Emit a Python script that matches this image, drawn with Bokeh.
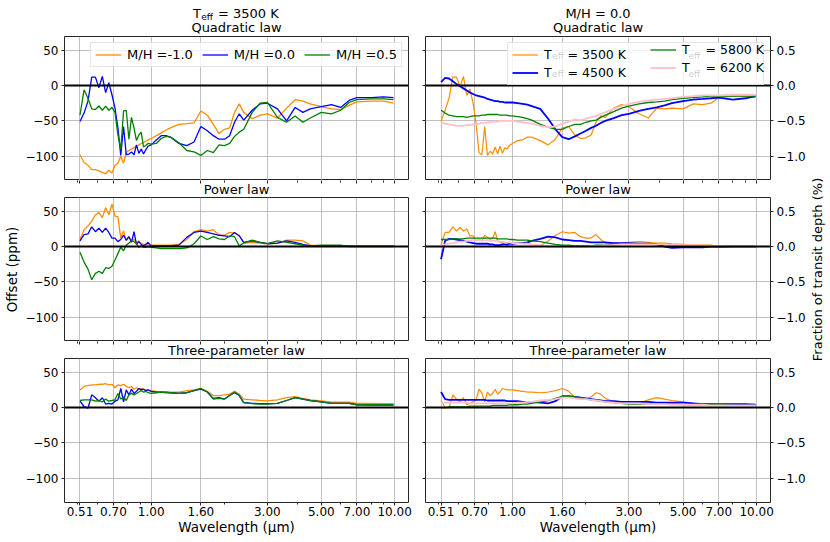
import math
from bokeh.plotting import figure
from bokeh.models import (Range1d, FixedTicker, LinearAxis, Span, Label,
                          Legend, LegendItem, CustomJSTickFormatter)
from bokeh.layouts import column, row
from bokeh.embed import file_html
from bokeh.resources import INLINE

# ---------------- data ----------------
wavelength = [0.51, 0.53, 0.55, 0.57, 0.59, 0.61, 0.63, 0.65, 0.67, 0.69,
              0.71, 0.73, 0.75, 0.77, 0.79, 0.81, 0.83, 0.85, 0.87, 0.89,
              0.91, 0.93, 0.95, 0.97, 1.00,
              1.05, 1.10, 1.15, 1.20, 1.30, 1.40, 1.50, 1.60,
              1.70, 1.80, 1.90, 2.00, 2.10, 2.20, 2.30, 2.40,
              2.60, 2.80, 3.00, 3.30, 3.60, 3.90, 4.20, 4.50,
              5.00, 5.50, 6.00, 6.50, 7.00, 8.00, 9.00, 9.90]

# left column: Teff = 3500 K, offsets in ppm
mh_labels = ["M/H =-1.0", "M/H =0.0", "M/H =0.5"]
quad_mh_m10 = [-98, -109, -113, -119, -119, -121, -123, -125, -120, -124,
               -113, -110, -100, -110, -95, -92, -90, -88, -86, -84,
               -82, -81, -79, -77, -75,
               -71, -67, -63, -60, -55, -54, -53, -36,
               -42, -55, -68, -62, -60, -38, -26, -38,
               -47, -42, -40, -46, -32, -20, -22, -26,
               -30, -33, -34, -28, -23, -22, -22, -25]
quad_mh_00 = [-51, -39, -22, 12, 12, -3, 13, -10, 4, -13,
              -32, -60, -99, -58, -98, -97, -94, -98, -84, -96,
              -90, -97, -91, -86, -84,
              -77, -71, -71, -73, -82, -85, -80, -58,
              -64, -71, -76, -76, -71, -52, -40, -49,
              -35, -26, -25, -33, -50, -31, -38, -33,
              -30, -27, -31, -21, -17, -17, -16, -17]
quad_mh_05 = [-42, -6, -18, -33, -34, -29, -35, -29, -35, -31,
              -38, -70, -90, -36, -35, -76, -45, -60, -78, -70,
              -66, -87, -85, -82, -83,
              -82, -75, -72, -73, -81, -92, -94, -99,
              -92, -95, -84, -85, -82, -72, -66, -62,
              -38, -25, -24, -45, -52, -43, -52, -46,
              -38, -40, -35, -24, -20, -19, -19, -20]
pow_mh_m10 = [10, 24, 29, 36, 45, 48, 41, 55, 45, 60,
              43, 42, 12, 22, 8, 14, 8, 10, 6, 8,
              4, 3, 3, 2, 2,
              2, 2, 2, 2, 3, 10, 21, 24,
              22, 24, 16, 16, 20, 19, 16, 5,
              6, 5, 4, 5, 9, 9, 8, 2,
              1, 1, 0.5, 0.5, 0.5, 0.5, 0.5, 0.5]
pow_mh_00 = [8, 17, 18, 28, 21, 26, 20, 26, 20, 12,
             12, 7, 10, 16, 9, 14, 6, 21, 3, 7,
             3, 1, 3, 6, 1,
             1, 1, 1, 1, 2, 13, 20, 22,
             20, 18, 16, 15, 14, 20, 15, 6,
             8, 6, 4, 5, 8, 6, 3, 1,
             1, 1, 1, 0.5, 0.5, 0.5, 0.5, 0.5]
pow_mh_05 = [-8, -22, -32, -47, -38, -35, -38, -30, -31, -28,
             -19, -10, -1, -6, 2, 5, 8, 7, 4, -1,
             1, -1, -1, 0, -1,
             -2, -3, -3, -3, -3, -2, 4, 15,
             10, 14, 11, 10, 15, 14, 1, 5,
             9, 6, 4, 8, 6, 4, 2, 1,
             2, 2, 2, 0, 0, 0, 0, 0]
three_mh_m10 = [25, 30, 31, 32, 32, 33, 33, 34, 32, 33,
                28, 32, 31, 33, 30, 28, 30, 26, 28, 26,
                27, 26, 25, 24.5, 24,
                23, 22, 22, 22, 22, 24, 25, 27,
                23, 17, 17, 18, 19, 23, 19, 12,
                11, 10, 9.5, 11, 14, 15.5, 13, 11,
                9.5, 7.5, 7.5, 7.5, 6, 6, 5.5, 5.5]
three_mh_00 = [9, 1.5, -1, 18, 14, 9, 14, 5, 6, 5,
               9, 11, 27, 8, 25, 18, 26, 20, 23, 27,
               25, 26, 24, 25, 23,
               22, 22, 22, 21, 20, 21, 24, 26,
               22, 13, 14, 12, 17, 21, 17, 7,
               6, 5.5, 5.5, 6, 10, 14, 12, 10,
               8, 6, 6, 6, 4, 3.5, 3.5, 3.5]
three_mh_05 = [10, 11, 11, 11, 9, 10, 8, 12, 9, 10,
               11, 20, 12, 15, 10, 18, 20, 18, 20, 22,
               24, 22, 23, 21, 20,
               21, 22, 21, 21, 20, 21, 24, 27,
               22, 12, 13, 12, 17, 22, 17, 7,
               5.5, 5, 5, 6, 10, 14, 12, 10,
               8, 6, 6, 6, 4, 4, 4, 4]

# right column: M/H = 0.0, fraction of transit depth in %
teff_values = ["3500", "4500", "5800", "6200"]
quad_t3500 = [-0.51, -0.35, -0.18, 0.12, 0.12, -0.02, 0.13, -0.14, -0.05, -0.25,
              -0.55, -0.95, -0.98, -0.58, -0.99, -0.93, -0.97, -0.87, -0.97, -0.86,
              -0.96, -0.88, -0.90, -0.85, -0.82,
              -0.78, -0.77, -0.73, -0.73, -0.78, -0.84, -0.76, -0.60,
              -0.58, -0.70, -0.75, -0.74, -0.70, -0.52, -0.43, -0.45,
              -0.32, -0.27, -0.30, -0.40, -0.46, -0.32, -0.33, -0.32,
              -0.33, -0.26, -0.27, -0.25, -0.17, -0.15, -0.15, -0.17]
quad_t4500 = [0.05, 0.11, 0.10, 0.06, 0.02, -0.01, -0.04, -0.07, -0.10, -0.12,
              -0.14, -0.15, -0.16, -0.17, -0.19, -0.20, -0.21, -0.22, -0.22, -0.23,
              -0.23, -0.24, -0.24, -0.24, -0.24,
              -0.25, -0.26, -0.27, -0.29, -0.33, -0.47, -0.62, -0.73,
              -0.76, -0.72, -0.68, -0.64, -0.60, -0.57, -0.53, -0.50,
              -0.46, -0.42, -0.40, -0.36, -0.33, -0.31, -0.28, -0.25,
              -0.22, -0.20, -0.19, -0.18, -0.17, -0.20, -0.18, -0.15]
quad_t5800 = [-0.35, -0.39, -0.42, -0.43, -0.44, -0.44, -0.44, -0.45, -0.44, -0.43,
              -0.43, -0.43, -0.42, -0.42, -0.41, -0.41, -0.41, -0.41, -0.41, -0.42,
              -0.42, -0.42, -0.42, -0.43, -0.43,
              -0.44, -0.45, -0.47, -0.49, -0.55, -0.59, -0.62, -0.62,
              -0.58, -0.55, -0.55, -0.52, -0.50, -0.49, -0.45, -0.42,
              -0.37, -0.32, -0.29, -0.26, -0.24, -0.23, -0.22, -0.20,
              -0.18, -0.17, -0.16, -0.15, -0.15, -0.15, -0.15, -0.15]
quad_t6200 = [-0.52, -0.54, -0.55, -0.56, -0.57, -0.57, -0.57, -0.56, -0.56, -0.55,
              -0.55, -0.54, -0.53, -0.53, -0.52, -0.52, -0.51, -0.51, -0.51, -0.50,
              -0.50, -0.50, -0.50, -0.50, -0.50,
              -0.51, -0.52, -0.53, -0.54, -0.57, -0.59, -0.58, -0.54,
              -0.51, -0.48, -0.49, -0.47, -0.45, -0.43, -0.40, -0.38,
              -0.33, -0.29, -0.26, -0.23, -0.21, -0.20, -0.19, -0.18,
              -0.16, -0.15, -0.14, -0.14, -0.14, -0.13, -0.13, -0.13]
pow_t3500 = [0.03, 0.20, 0.20, 0.28, 0.22, 0.27, 0.22, 0.25, 0.15, 0.15,
             0.08, 0.10, 0.08, 0.16, 0.13, 0.10, 0.12, 0.21, 0.08, 0.06,
             0.05, 0.03, 0.01, 0.01, 0.00,
             0.00, 0.00, 0.00, 0.00, 0.01, 0.08, 0.16, 0.21,
             0.19, 0.20, 0.14, 0.12, 0.12, 0.17, 0.10, 0.05,
             0.05, 0.05, 0.06, 0.07, 0.06, 0.05, 0.05, 0.04,
             0.03, 0.02, 0.02, 0.02, 0.00, 0.00, 0.00, 0.00]
pow_t4500 = [-0.18, 0.08, 0.11, 0.11, 0.10, 0.09, 0.08, 0.07, 0.06, 0.05,
             0.04, 0.04, 0.04, 0.04, 0.04, 0.03, 0.03, 0.02, 0.02, 0.02,
             0.03, 0.03, 0.03, 0.04, 0.04,
             0.05, 0.05, 0.06, 0.08, 0.11, 0.14, 0.13, 0.10,
             0.09, 0.08, 0.08, 0.07, 0.06, 0.06, 0.06, 0.06,
             0.05, 0.05, 0.05, 0.04, 0.04, 0.03, 0.00, -0.02,
             -0.01, -0.01, -0.01, 0.00, 0.00, 0.00, 0.00, 0.00]
pow_t5800 = [0.10, 0.10, 0.10, 0.11, 0.11, 0.11, 0.11, 0.12, 0.12, 0.12,
             0.12, 0.12, 0.12, 0.12, 0.12, 0.12, 0.12, 0.12, 0.11, 0.11,
             0.11, 0.11, 0.11, 0.10, 0.10,
             0.09, 0.09, 0.09, 0.08, 0.07, 0.05, 0.03, 0.02,
             0.02, 0.01, 0.01, 0.01, 0.01, 0.02, 0.02, 0.02,
             0.04, 0.04, 0.04, 0.04, 0.04, 0.03, 0.03, 0.02,
             0.01, 0.01, 0.00, 0.00, 0.00, 0.00, 0.00, 0.00]
pow_t6200 = [0.01, 0.03, 0.04, 0.05, 0.06, 0.07, 0.07, 0.08, 0.08, 0.09,
             0.09, 0.09, 0.09, 0.09, 0.09, 0.08, 0.08, 0.08, 0.08, 0.07,
             0.07, 0.06, 0.06, 0.06, 0.05,
             0.05, 0.04, 0.04, 0.03, 0.02, 0.00, 0.00, 0.00,
             0.00, 0.00, 0.00, 0.00, 0.01, 0.01, 0.01, 0.02,
             0.02, 0.03, 0.03, 0.03, 0.03, 0.03, 0.03, 0.02,
             0.02, 0.02, 0.01, 0.01, 0.01, 0.00, 0.00, 0.00]
three_t3500 = [0.10, 0.00, 0.00, 0.18, 0.12, 0.08, 0.14, 0.04, 0.06, 0.08,
               0.11, 0.26, 0.20, 0.08, 0.22, 0.17, 0.20, 0.26, 0.19, 0.22,
               0.27, 0.26, 0.25, 0.25, 0.25,
               0.24, 0.23, 0.22, 0.22, 0.21, 0.22, 0.24, 0.27,
               0.23, 0.15, 0.14, 0.12, 0.15, 0.21, 0.19, 0.13,
               0.08, 0.06, 0.05, 0.06, 0.11, 0.14, 0.12, 0.10,
               0.08, 0.06, 0.05, 0.05, 0.04, 0.04, 0.04, 0.04]
three_t4500 = [0.22, 0.12, 0.11, 0.11, 0.11, 0.11, 0.11, 0.11, 0.11, 0.11,
               0.11, 0.11, 0.11, 0.11, 0.10, 0.10, 0.10, 0.10, 0.10, 0.10,
               0.10, 0.10, 0.09, 0.09, 0.09,
               0.09, 0.08, 0.08, 0.08, 0.07, 0.06, 0.09, 0.16,
               0.16, 0.15, 0.14, 0.13, 0.12, 0.11, 0.10, 0.09,
               0.09, 0.08, 0.08, 0.08, 0.08, 0.07, 0.07, 0.07,
               0.07, 0.06, 0.05, 0.05, 0.05, 0.05, 0.05, 0.04]
three_t5800 = [0.00, 0.00, 0.01, 0.01, 0.01, 0.01, 0.01, 0.01, 0.02, 0.02,
               0.02, 0.02, 0.02, 0.02, 0.02, 0.02, 0.03, 0.03, 0.03, 0.03,
               0.03, 0.03, 0.03, 0.04, 0.04,
               0.04, 0.05, 0.05, 0.06, 0.08, 0.10, 0.13, 0.16,
               0.16, 0.15, 0.14, 0.12, 0.11, 0.10, 0.09, 0.08,
               0.07, 0.06, 0.05, 0.05, 0.05, 0.05, 0.05, 0.05,
               0.04, 0.04, 0.04, 0.04, 0.04, 0.03, 0.03, 0.03]
three_t6200 = [0.06, 0.07, 0.07, 0.07, 0.07, 0.07, 0.07, 0.07, 0.06, 0.06,
               0.06, 0.06, 0.06, 0.06, 0.06, 0.06, 0.06, 0.06, 0.06, 0.06,
               0.06, 0.06, 0.06, 0.06, 0.06,
               0.07, 0.07, 0.08, 0.08, 0.10, 0.11, 0.12, 0.14,
               0.14, 0.13, 0.12, 0.12, 0.11, 0.10, 0.09, 0.08,
               0.07, 0.06, 0.06, 0.06, 0.05, 0.05, 0.05, 0.04,
               0.04, 0.04, 0.04, 0.03, 0.03, 0.03, 0.03, 0.03]

law_titles = ["Quadratic law", "Power law", "Three-parameter law"]
x_tick_values = [0.51, 0.70, 1.00, 1.60, 3.00, 5.00, 7.00, 10.00]
x_minor_ticks = [0.5, 0.6, 0.8, 0.9, 2, 4, 6, 8, 9]
left_y_ticks = [-100, -50, 0, 50]
right_y_ticks = [-1.0, -0.5, 0.0, 0.5]

left_series = [[quad_mh_m10, quad_mh_00, quad_mh_05],
               [pow_mh_m10, pow_mh_00, pow_mh_05],
               [three_mh_m10, three_mh_00, three_mh_05]]
right_series = [[quad_t3500, quad_t4500, quad_t5800, quad_t6200],
                [pow_t3500, pow_t4500, pow_t5800, pow_t6200],
                [three_t3500, three_t4500, three_t5800, three_t6200]]

# ---------------- style / layout ----------------
FONT = "DejaVu Sans"
X_START, X_END = 0.4405, 11.4
X_MID = math.sqrt(X_START * X_END)
Y_LEFT = (-134.5, 69.5)
Y_RIGHT = (-1.345, 0.695)
FRAME_COLOR = "#262626"
GRID_COLOR = "#b0b0b0"
LEFT_COLORS = ["#ff8c00", "#0000ff", "#008000"]
RIGHT_COLORS = ["#ff8c00", "#0000ff", "#008000", "#ffc0cb"]
RIGHT_WIDTHS = [1.2, 1.8, 1.3, 1.8]

TOTAL_H = 542
COL_W = [416, 392]                 # figure widths (left / right column)
SIDE_W = 22                        # strip holding the right-hand axis title
BORDER_L = [62, 9]
BORDER_R = [8, 36]
PANEL_H = [144, 144, 184]
PANEL_BOTTOM = [0, 0, 40]
STRIP_H = [36, 17, 17]             # title strips above each panel row
MID_ROW_CENTER = 36 + 144 + 17 + 72   # screen y of the middle frame centre
BASE_SHIFT = 0.3                   # baseline correction, in em


def style_axis(ax, show_labels):
    ax.axis_line_color = None
    ax.major_tick_in = 0
    ax.minor_tick_in = 0
    ax.major_tick_out = 3
    ax.minor_tick_out = 2
    ax.major_tick_line_color = FRAME_COLOR
    ax.minor_tick_line_color = FRAME_COLOR
    ax.axis_label_text_font = FONT
    ax.axis_label_text_font_size = "13.5px"
    ax.axis_label_text_font_style = "normal"
    ax.axis_label_text_color = "black"
    if show_labels:
        ax.major_label_text_font = FONT
        ax.major_label_text_font_size = "12px"
        ax.major_label_text_color = "black"
    else:
        ax.formatter = CustomJSTickFormatter(code="return '';")
        ax.major_label_text_font_size = "0px"
        ax.major_label_standoff = 0


def add_text(p, text, x, y, size, align="center", baseline="alphabetic", angle=0.0, x_offset=0.0):
    if baseline == "alphabetic":
        y = y + BASE_SHIFT * size
    p.add_layout(Label(x=x, y=y, text=text, text_align=align, text_baseline=baseline,
                       angle=angle, x_offset=x_offset, text_font=FONT,
                       text_font_size=f"{size}px", text_color="black"))


def make_side(w, h):
    s = figure(width=w, height=h, x_range=Range1d(0, w), y_range=Range1d(0, h),
               x_axis_location=None, y_axis_location=None, output_backend="svg",
               toolbar_location=None, title=None, min_border=0,
               min_border_left=0, min_border_right=0, min_border_top=0, min_border_bottom=0)
    s.outline_line_color = None
    s.grid.visible = False
    s.background_fill_color = "white"
    s.border_fill_color = "white"
    return s


def make_strip(col, h, ticks):
    # title strip sharing the panels' x scale; optional tick marks hanging from the panel above
    s = figure(width=COL_W[col], height=h, x_axis_type="log",
               x_range=Range1d(X_START, X_END), y_range=Range1d(0, h),
               x_axis_location="above" if ticks else None, y_axis_location=None,
               output_backend="svg", toolbar_location=None, title=None, min_border=0,
               min_border_left=BORDER_L[col], min_border_right=BORDER_R[col],
               min_border_top=0, min_border_bottom=0)
    s.outline_line_color = None
    s.grid.visible = False
    s.background_fill_color = "white"
    s.border_fill_color = "white"
    if ticks:
        ax = s.xaxis[0]
        ax.ticker = FixedTicker(ticks=x_tick_values, minor_ticks=x_minor_ticks)
        style_axis(ax, False)
        ax.major_tick_out = 0
        ax.minor_tick_out = 0
        ax.major_tick_in = 3
        ax.minor_tick_in = 2
    return s


def make_panel(col, r):
    left = col == 0
    yr = Y_LEFT if left else Y_RIGHT
    p = figure(width=COL_W[col], height=PANEL_H[r], x_axis_type="log",
               x_range=Range1d(X_START, X_END), y_range=Range1d(*yr),
               y_axis_location="left" if left else "right",
               output_backend="svg", toolbar_location=None, title=None,
               min_border_left=BORDER_L[col], min_border_right=BORDER_R[col],
               min_border_top=0, min_border_bottom=PANEL_BOTTOM[r])
    p.outline_line_color = FRAME_COLOR
    p.outline_line_width = 1
    p.background_fill_color = "white"
    p.border_fill_color = "white"

    xt = FixedTicker(ticks=x_tick_values, minor_ticks=x_minor_ticks)
    xax = p.xaxis[0]
    xax.ticker = xt
    p.xgrid[0].ticker = xt
    if r == 2:
        xax.formatter = CustomJSTickFormatter(code="return tick.toFixed(2);")
        style_axis(xax, True)
        xax.major_label_standoff = 1
        xax.axis_label = "Wavelength (μm)"
        xax.axis_label_standoff = 0
    else:
        xax.visible = False

    yt = FixedTicker(ticks=left_y_ticks if left else right_y_ticks)
    yax = p.yaxis[0]
    yax.ticker = yt
    p.ygrid[0].ticker = yt
    digits = 0 if left else 1
    yax.formatter = CustomJSTickFormatter(
        code=f"return tick < 0 ? '\\u2212' + Math.abs(tick).toFixed({digits}) : tick.toFixed({digits});")
    style_axis(yax, True)
    yax.major_label_standoff = 3
    if left and r == 1:
        yax.axis_label = "Offset (ppm)"
        yax.axis_label_standoff = 3
    if not left:
        lax = LinearAxis(ticker=yt)
        style_axis(lax, False)
        p.add_layout(lax, "left")

    for g in (p.xgrid[0], p.ygrid[0]):
        g.grid_line_color = GRID_COLOR
        g.grid_line_width = 1
        g.grid_line_alpha = 0.8
    return p


columns = [[], []]
for r in range(3):
    strips = [make_strip(0, STRIP_H[r], r > 0), make_strip(1, STRIP_H[r], r > 0)]
    for c in range(2):
        add_text(strips[c], law_titles[r], X_MID, 5.5 if r == 0 else 4.5, 13)
    if r == 0:
        # left column heading: T_eff = 3500 K
        add_text(strips[0], "T", X_MID, 19.2, 13, align="left", x_offset=-43.5)
        add_text(strips[0], "eff", X_MID, 16.9, 9, align="left", x_offset=-35.3)
        add_text(strips[0], "= 3500 K", X_MID, 19.2, 13, align="left", x_offset=-18.6)
        # right column heading
        add_text(strips[1], "M/H = 0.0", X_MID, 19.2, 13)
    columns[0].append(strips[0])
    columns[1].append(strips[1])

    # left column panel
    p = make_panel(0, r)
    renderers = []
    for s, c in zip(left_series[r], LEFT_COLORS):
        renderers.append(p.line(wavelength, s, line_color=c, line_width=1.3))
    p.add_layout(Span(location=0, dimension="width", line_color="black", line_width=2))
    if r == 0:
        leg = Legend(items=[LegendItem(label=lab, renderers=[rr]) for lab, rr in zip(mh_labels, renderers)],
                     orientation="horizontal", location="top_right", margin=6, padding=4,
                     spacing=9, glyph_width=26, glyph_height=13, label_height=13,
                     label_standoff=6, label_text_font=FONT, label_text_font_size="13px",
                     label_text_color="black",
                     border_line_color="#cccccc", border_line_width=1,
                     background_fill_color="white", background_fill_alpha=0.8)
        p.add_layout(leg)
    columns[0].append(p)

    # right column panel
    p = make_panel(1, r)
    renderers = []
    for s, c, w in zip(right_series[r], RIGHT_COLORS, RIGHT_WIDTHS):
        renderers.append(p.line(wavelength, s, line_color=c, line_width=w))
    p.add_layout(Span(location=0, dimension="width", line_color="black", line_width=2))
    if r == 0:
        common = dict(orientation="vertical", location="top_right", margin=6, padding=4,
                      spacing=3, glyph_width=26, glyph_height=15, label_height=15,
                      label_standoff=6, label_text_font=FONT, label_text_font_size="12.5px",
                      label_text_color="black")
        leg1 = Legend(items=[LegendItem(label=f"T    = {teff_values[i]} K", renderers=[renderers[i]])
                             for i in (0, 1)],
                      label_width=215, border_line_color="#cccccc", border_line_width=1,
                      background_fill_color="white", background_fill_alpha=0.8, **common)
        leg2 = Legend(items=[LegendItem(label=f"T    = {teff_values[i]} K", renderers=[renderers[i]])
                             for i in (2, 3)],
                      label_width=80, border_line_color=None, background_fill_alpha=0.0, **common)
        p.add_layout(leg1)
        p.add_layout(leg2)
        # subscript "eff" of each legend entry
        for x_off in (-218.4, -82.0):
            for y_off in (-19.5, -37.5):
                p.add_layout(Label(x=X_END, y=Y_RIGHT[1], x_offset=x_off, y_offset=y_off, text="eff",
                                   text_align="left", text_baseline="middle", text_font=FONT,
                                   text_font_size="9px", text_color="black"))
    columns[1].append(p)

# right-hand axis title spanning the full height
side = make_side(SIDE_W, TOTAL_H)
add_text(side, "Fraction of transit depth (%)", 9, TOTAL_H - MID_ROW_CENTER, 13,
         baseline="middle", angle=math.pi / 2)

layout = row(column(*columns[0]), column(*columns[1]), side)

open("out.html", "w", encoding="utf-8").write(file_html(layout, INLINE))
